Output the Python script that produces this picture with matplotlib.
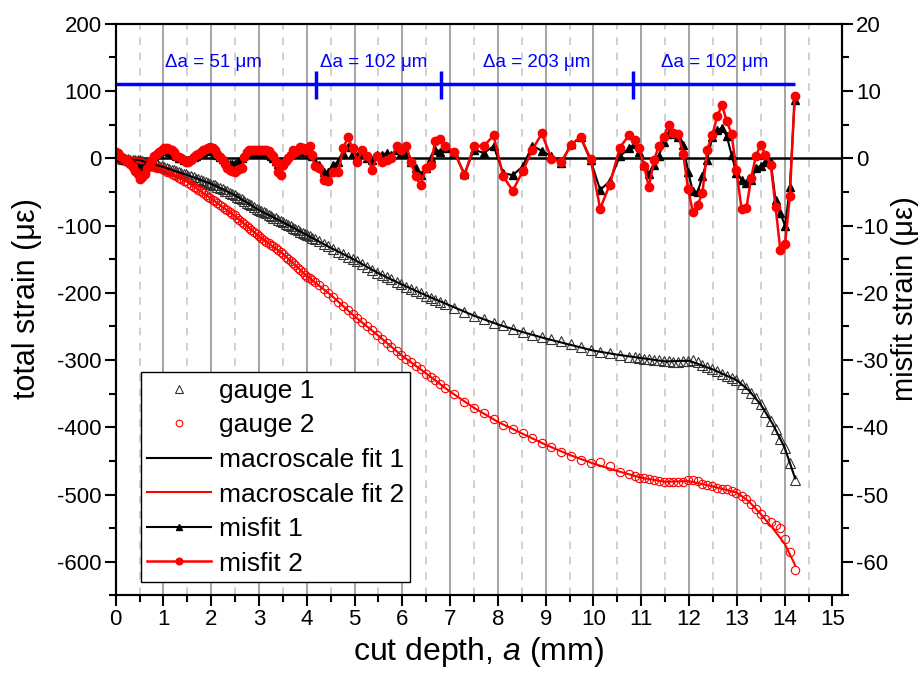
import matplotlib
matplotlib.use("Agg")
import matplotlib.pyplot as plt
import numpy as np

plt.rcParams["font.family"] = ["Liberation Sans", "DejaVu Sans"]
plt.rcParams["axes.unicode_minus"] = False
plt.rcParams["mathtext.fontset"] = "custom"
plt.rcParams["mathtext.rm"] = "Liberation Sans"
plt.rcParams["mathtext.it"] = "Liberation Sans:italic"

# cut depth (mm), four sections cut with different increments
depth_s1 = [0.00, 0.05, 0.10, 0.15, 0.20, 0.25, 0.30, 0.36, 0.41, 0.46,
            0.51, 0.56, 0.61, 0.66, 0.71, 0.76, 0.81, 0.86, 0.91, 0.97,
            1.02, 1.07, 1.12, 1.17, 1.22, 1.27, 1.32, 1.37, 1.42, 1.47,
            1.52, 1.57, 1.63, 1.68, 1.73, 1.78, 1.83, 1.88, 1.93, 1.98,
            2.03, 2.08, 2.13, 2.18, 2.24, 2.29, 2.34, 2.39, 2.44, 2.49,
            2.54, 2.59, 2.64, 2.69, 2.74, 2.79, 2.84, 2.90, 2.95, 3.00,
            3.05, 3.10, 3.15, 3.20, 3.25, 3.30, 3.35, 3.40, 3.45, 3.51,
            3.56, 3.61, 3.66, 3.71, 3.76, 3.81, 3.86, 3.91, 3.96, 4.01,
            4.06, 4.11, 4.17]
depth_s2 = [4.25, 4.35, 4.45, 4.55, 4.66, 4.76, 4.86, 4.96, 5.06, 5.16,
            5.27, 5.37, 5.47, 5.57, 5.67, 5.77, 5.88, 5.98, 6.08, 6.18,
            6.28, 6.38, 6.49, 6.59, 6.69, 6.79]
depth_s3 = [6.89, 7.09, 7.30, 7.50, 7.70, 7.91, 8.11, 8.31, 8.52, 8.72,
            8.92, 9.12, 9.33, 9.53, 9.73, 9.94, 10.14, 10.34, 10.55, 10.75]
depth_s4 = [10.86, 10.96, 11.06, 11.16, 11.27, 11.37, 11.47, 11.57, 11.67, 11.77,
            11.88, 11.98, 12.08, 12.18, 12.28, 12.38, 12.49, 12.59, 12.69, 12.79,
            12.89, 12.99, 13.10, 13.20, 13.30, 13.40, 13.50, 13.60, 13.71, 13.81,
            13.91, 14.01, 14.11, 14.21]

# total strain (microstrain)
gauge1_s1 = [0, 0, 0, -1, -1, -1, -2, -2, -2, -3,
             -3, -4, -5, -6, -7, -8, -9, -10, -11, -12,
             -13, -14, -16, -17, -18, -19, -21, -22, -23, -24,
             -26, -27, -28, -30, -31, -32, -34, -35, -36, -38,
             -39, -40, -42, -44, -46, -48, -49, -51, -53, -55,
             -57, -59, -61, -63, -66, -68, -70, -73, -75, -77,
             -79, -80, -82, -84, -86, -88, -89, -91, -93, -95,
             -97, -99, -101, -103, -105, -107, -109, -111, -112, -114,
             -116, -118, -120]
gauge1_s2 = [-123, -127, -131, -135, -139, -142, -146, -150, -153, -157,
             -162, -166, -170, -173, -177, -180, -184, -187, -191, -194,
             -197, -200, -204, -207, -210, -213]
gauge1_s3 = [-216, -222, -228, -234, -239, -245, -248, -254, -258, -262,
             -266, -268, -272, -276, -280, -285, -288, -290, -292, -295]
gauge1_s4 = [-296, -297, -298, -298, -300, -300, -302, -302, -303, -303,
             -302, -301, -300, -303, -307, -311, -314, -317, -320, -323,
             -327, -330, -335, -341, -349, -357, -366, -377, -390, -403,
             -417, -431, -453, -479]

gauge2_s1 = [0, 0, -1, -2, -2, -3, -4, -4, -5, -6,
             -6, -7, -8, -10, -11, -12, -13, -14, -15, -16,
             -18, -20, -21, -23, -25, -27, -29, -31, -33, -34,
             -36, -39, -42, -44, -47, -49, -52, -54, -57, -59,
             -62, -64, -67, -69, -72, -75, -77, -80, -83, -85,
             -88, -91, -94, -97, -100, -103, -106, -110, -113, -116,
             -119, -121, -124, -126, -129, -131, -134, -137, -139, -142,
             -146, -149, -153, -156, -159, -163, -166, -169, -173, -176,
             -178, -181, -184]
gauge2_s2 = [-189, -195, -200, -206, -213, -219, -226, -232, -238, -244,
             -250, -256, -262, -268, -274, -280, -287, -293, -298, -303,
             -309, -314, -320, -325, -330, -336]
gauge2_s3 = [-341, -351, -362, -371, -379, -388, -396, -403, -409, -416,
             -423, -430, -436, -442, -448, -453, -451, -457, -466, -470]
gauge2_s4 = [-473, -475, -476, -477, -478, -480, -481, -482, -482, -482,
             -481, -479, -478, -480, -484, -486, -488, -490, -491, -492,
             -494, -497, -502, -507, -514, -521, -529, -537, -541, -545,
             -550, -566, -585, -612]

# misfit strain (microstrain, right axis)
misfit1_s1 = [0.5, 0.4, 0.2, 0.0, -0.2, -0.4, -0.6, -0.9, -1.1, -1.3,
              -1.5, -1.4, -1.2, -0.9, -0.5, -0.1, 0.3, 0.6, 0.9, 1.1,
              1.2, 1.2, 1.0, 0.8, 0.6, 0.3, 0.1, 0.0, -0.2, -0.3,
              -0.2, 0.0, 0.2, 0.4, 0.6, 0.8, 1.0, 1.1, 1.2, 1.2,
              1.1, 0.8, 0.5, 0.2, -0.1, -0.4, -0.7, -0.8, -0.9, -0.8,
              -0.7, -0.4, 0.0, 0.5, 0.8, 0.8, 0.8, 0.8, 0.8, 0.8,
              0.8, 0.8, 0.7, 0.6, 0.3, 0.0, -0.4, -0.9, -1.0, -0.4,
              0.0, 0.3, 0.6, 0.8, 0.8, 0.9, 1.1, 1.0, 0.9, 1.0,
              1.2, 0.3, -0.5]
misfit1_s2 = [-1.0, -2.0, -2.0, -1.0, -0.5, 0.8, 1.7, 0.8, 0.3, 0.8,
              0.0, -0.3, 0.5, 0.5, 0.8, 0.5, 1.3, 0.8, 0.8, -0.5,
              -1.5, -2.5, -1.5, 0.0, 1.3, 1.0]
misfit1_s3 = [1.5, 0.8, -2.3, 1.3, 0.8, 1.8, -2.2, -2.5, -1.2, 1.9,
              1.1, 0.3, -0.7, 2.1, 3.1, -0.3, -4.7, -3.4, 0.3, 1.5]
misfit1_s4 = [2.2, 1.0, -1.0, -2.4, -1.0, 0.4, 2.5, 3.7, 3.6, 3.2,
              2.0, -2.0, -4.9, -5.0, -2.7, -0.2, 3.2, 4.2, 4.5, 3.3,
              0.5, -2.2, -3.2, -3.7, -3.2, -1.5, -1.1, -0.5, -0.5, -6.2,
              -8.1, -10.1, -4.3, 8.6]

misfit2_s1 = [1.0, 0.8, 0.4, 0.0, -0.3, -0.5, -0.8, -1.3, -1.9, -2.4,
              -3.0, -2.8, -2.3, -1.5, -0.9, -0.2, 0.3, 0.7, 1.0, 1.3,
              1.5, 1.6, 1.4, 1.2, 0.9, 0.4, 0.2, 0.0, -0.3, -0.6,
              -0.6, -0.2, 0.2, 0.5, 0.7, 1.0, 1.2, 1.4, 1.5, 1.7,
              1.6, 1.2, 0.7, 0.2, -0.3, -0.8, -1.4, -1.8, -1.9, -2.0,
              -1.8, -1.6, -1.4, 0.2, 1.0, 1.2, 1.2, 1.2, 1.2, 1.2,
              1.2, 1.2, 1.2, 1.1, 0.7, 0.3, -0.5, -2.0, -2.5, -1.0,
              -0.4, 0.0, 0.5, 1.2, 1.0, 1.2, 1.7, 1.5, 1.2, 1.4,
              1.8, 0.5, -1.2]
misfit2_s2 = [-1.5, -3.2, -3.3, -2.0, -2.0, 1.5, 3.1, 1.5, -0.5, 1.3,
              0.3, -1.7, 0.4, -0.5, -0.2, 0.0, 1.8, 1.3, 1.9, -0.5,
              -2.7, -4.0, -1.5, -1.0, 2.6, 2.9]
misfit2_s3 = [1.8, 1.0, -2.5, 1.9, 1.8, 3.4, -2.7, -4.8, -1.9, 1.3,
              3.7, -0.1, -0.5, 2.0, 3.2, -0.1, -7.5, -3.9, 1.6, 3.5]
misfit2_s4 = [2.7, 1.5, -1.2, -4.3, -0.2, 1.9, 3.2, 4.9, 3.8, 3.6,
              0.6, -4.6, -8.0, -6.9, -5.2, 1.3, 3.5, 6.3, 7.9, 5.5,
              3.6, -1.7, -7.6, -7.4, -2.9, 0.4, 2.0, 0.5, -1.0, -7.2,
              -13.6, -12.7, -5.6, 9.3]

# macroscale fits
fit_depth = [0.0, 0.5, 1.0, 1.5, 2.0, 2.5, 3.0, 3.5, 4.0, 4.5, 5.0, 5.5, 6.0, 6.5,
             7.0, 7.5, 8.0, 8.5, 9.0, 9.5, 10.0, 10.5, 11.0, 11.5, 12.0, 12.5,
             13.0, 13.25, 13.5, 13.75, 14.0, 14.22]
fit1 = [0, -3, -13, -25, -38, -55, -77, -95, -114, -133, -151, -171, -188, -204,
        -219, -234, -247, -258, -268, -277, -286, -292, -297, -302, -301, -314,
        -330, -345, -366, -395, -430, -476]
fit2 = [0, -6, -17, -35, -60, -86, -116, -142, -175, -203, -235, -264, -294, -320,
        -347, -371, -392, -409, -426, -441, -454, -465, -475, -481, -480, -488,
        -497, -510, -529, -550, -573, -605]

# cut increment sections
section_bounds = [4.19, 6.81, 10.83]
section_labels = ["Δa = 51 μm", "Δa = 102 μm", "Δa = 203 μm", "Δa = 102 μm"]
section_label_x = [2.04, 5.39, 8.82, 12.53]

depth = depth_s1 + depth_s2 + depth_s3 + depth_s4
gauge1 = gauge1_s1 + gauge1_s2 + gauge1_s3 + gauge1_s4
gauge2 = gauge2_s1 + gauge2_s2 + gauge2_s3 + gauge2_s4
misfit1 = misfit1_s1 + misfit1_s2 + misfit1_s3 + misfit1_s4
misfit2 = misfit2_s1 + misfit2_s2 + misfit2_s3 + misfit2_s4

BLUE = "#0000ff"

fig = plt.figure(figsize=(9.24, 6.93), dpi=100)
ax = fig.add_axes([0.1252, 0.1408, 0.7860, 0.8248])
ax.set_xlim(0, 15.2)
ax.set_ylim(-650, 200)

# vertical guide lines
for x in range(1, 15):
    ax.axvline(x, color="#8c8c8c", lw=1.1, zorder=0)
for x in np.arange(0.5, 15, 1.0):
    ax.axvline(x, color="#c4c4c4", lw=1.1, ls=(0, (5, 5)), zorder=0)

ax.axhline(0, color="black", lw=1.8, zorder=2)

# cut increment bar
ax.hlines(110, depth[0], depth[-1], color=BLUE, lw=2.5, zorder=3)
ax.vlines(section_bounds, 88, 130, color=BLUE, lw=2.5, zorder=3)
for xl, lab in zip(section_label_x, section_labels):
    ax.text(xl, 142, lab, ha="center", va="center", color=BLUE, fontsize=13.5)

h_g1, = ax.plot(depth, gauge1, ls="none", marker="^", ms=6.5, mfc="none",
                mec="#333333", mew=0.8, label="gauge 1", zorder=3)
h_g2, = ax.plot(depth, gauge2, ls="none", marker="o", ms=6, mfc="none",
                mec="#ff0000", mew=0.8, label="gauge 2", zorder=3)
h_f1, = ax.plot(fit_depth, fit1, color="black", lw=1.5, label="macroscale fit 1", zorder=4)
h_f2, = ax.plot(fit_depth, fit2, color="#ff0000", lw=1.5, label="macroscale fit 2", zorder=4)

ax2 = ax.twinx()
ax2.set_ylim(-65, 20)
h_m1, = ax2.plot(depth, misfit1, color="black", lw=1.5, marker="^", ms=5.5,
                 label="misfit 1")
h_m2, = ax2.plot(depth, misfit2, color="#ff0000", lw=1.8, marker="o", ms=6,
                 label="misfit 2")

# axes styling
ax.set_xticks(range(0, 16))
ax.set_xticks(np.arange(0.5, 15.2, 1.0), minor=True)
ax.set_yticks(range(-600, 201, 100))
ax.set_yticks(range(-650, 201, 50), minor=True)
ax2.set_yticks(range(-60, 21, 10))
ax2.set_yticks(range(-65, 21, 5), minor=True)
for a in (ax, ax2):
    a.tick_params(which="major", direction="out", length=8, width=1.5,
                  labelsize=16, pad=2)
    a.tick_params(which="minor", direction="out", length=5, width=1.5)
    for s in a.spines.values():
        s.set_linewidth(1.5)

ax.set_xlabel("cut depth, $a$ (mm)", fontsize=23)
ax.set_ylabel("total strain (με)", fontsize=22)
ax2.set_ylabel("misfit strain (με)", fontsize=21, rotation=90)
ax.xaxis.set_label_coords(0.5, -0.07)
ax.yaxis.set_label_coords(-0.102, 0.52)
ax2.yaxis.set_label_coords(1.067, 0.52)

handles = [h_g1, h_g2, h_f1, h_f2, h_m1, h_m2]
leg = ax2.legend(handles, [h.get_label() for h in handles],
                 loc="upper left", bbox_to_anchor=(140.7 / 924, 1 - 372.3 / 693),
                 bbox_transform=fig.transFigure, fontsize=19, numpoints=1,
                 markerscale=0.8,
                 fancybox=False, framealpha=1, edgecolor="black",
                 borderaxespad=0, borderpad=0.25, labelspacing=0.4,
                 handlelength=2.4, handletextpad=0.3)
leg.get_frame().set_linewidth(1.0)

fig.savefig("out.png", dpi=100)
